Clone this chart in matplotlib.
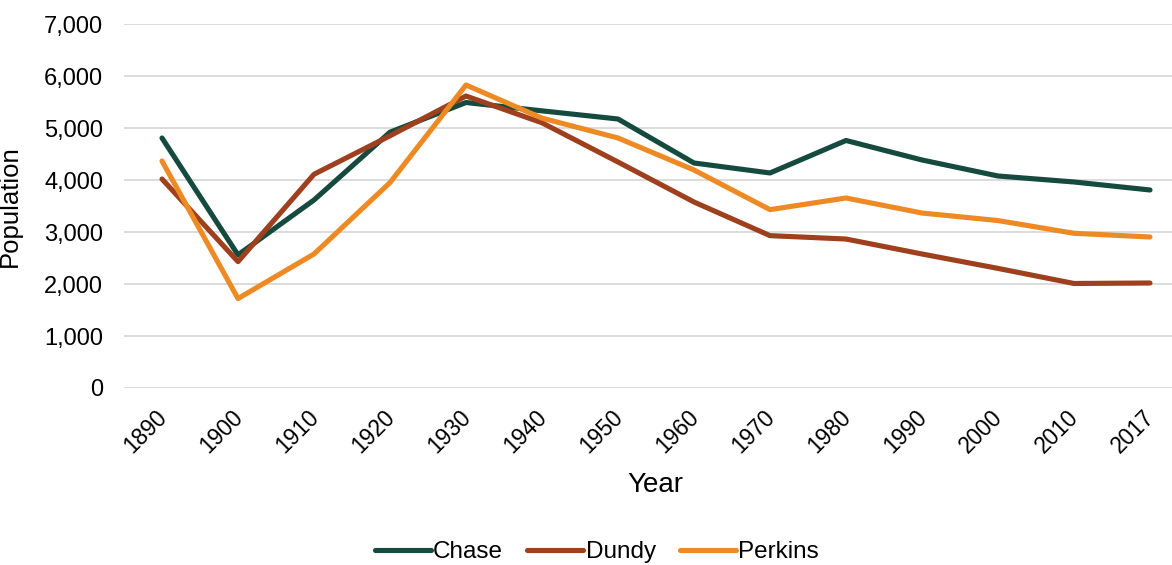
import matplotlib
matplotlib.use("Agg")
import matplotlib.pyplot as plt
import matplotlib.transforms as mtransforms
from matplotlib.ticker import FuncFormatter

plt.rcParams['font.family'] = ['Liberation Sans', 'DejaVu Sans']

years = ['1890', '1900', '1910', '1920', '1930', '1940', '1950', '1960',
         '1970', '1980', '1990', '2000', '2010', '2017']
chase = [4808, 2560, 3615, 4920, 5490, 5330, 5173, 4327, 4135, 4760, 4385, 4077, 3962, 3808]
dundy = [4019, 2430, 4110, 4850, 5615, 5100, 4346, 3577, 2930, 2865, 2577, 2300, 2010, 2019]
perkins = [4365, 1720, 2577, 3950, 5827, 5190, 4808, 4192, 3430, 3654, 3365, 3220, 2975, 2904]

series = [('Chase', chase, '#154a3e'), ('Dundy', dundy, '#9e3f1e'), ('Perkins', perkins, '#ee8a24')]

W, H = 1172, 565
fig = plt.figure(figsize=(W / 100, H / 100), dpi=100)
left, right, top, bottom = 124, 1172, 24, 388
ax = fig.add_axes([left / W, 1 - bottom / H, (right - left) / W, (bottom - top) / H])

x = list(range(len(years)))
for name, vals, col in series:
    ax.plot(x, vals, color=col, lw=3.7, solid_capstyle='round', solid_joinstyle='round', label=name)

ax.set_ylim(0, 7000)
ax.set_yticks(range(0, 7001, 1000))
ax.yaxis.set_major_formatter(FuncFormatter(lambda v, p: f'{int(v):,}'))
ax.set_xlim(-0.5, -0.5 + (right - left) / 76.0)
ax.set_xticks(x)
ax.set_xticklabels(years, rotation=45, ha='right', rotation_mode='anchor')

ax.grid(axis='y', color='#d9d9d9', lw=1.3)
ax.set_axisbelow(True)
for s in ax.spines.values():
    s.set_visible(False)
ax.tick_params(axis='both', length=0, colors='#000000')
ax.tick_params(axis='y', pad=15, labelsize=17)
ax.tick_params(axis='x', pad=10, labelsize=16.3)

offset = mtransforms.ScaledTranslation(-5 / 72, -3 / 72, fig.dpi_scale_trans)
for lbl in ax.get_xticklabels():
    lbl.set_transform(lbl.get_transform() + offset)

ax.set_ylabel('Population', fontsize=18.5)
ax.yaxis.set_label_coords(-(124 - 22) / (right - left), 0.5)
fig.text(655 / W, 1 - 485 / H, 'Year', fontsize=20, ha='center', va='center')

handles, labels = ax.get_legend_handles_labels()
fig.legend(handles, labels, loc='center', bbox_to_anchor=(597 / W, 1 - 552 / H), ncol=3,
           frameon=False, fontsize=17.5, handlelength=2.3, handletextpad=0.1, columnspacing=1.0)

fig.savefig('out.png', dpi=100)
